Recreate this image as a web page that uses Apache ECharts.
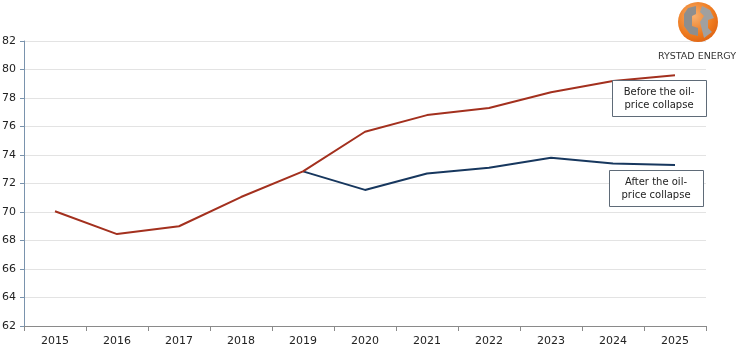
<!DOCTYPE html>
<html><head><meta charset="utf-8">
<script src="https://cdn.jsdelivr.net/npm/echarts@6/dist/echarts.min.js"></script>
<style>html,body{margin:0;padding:0;background:#fff}#c{width:738px;height:351px}</style>
</head><body><div id="c"></div>
<script>
const years = ['2015','2016','2017','2018','2019','2020','2021','2022','2023','2024','2025'];
const beforeCollapse = [70.05, 68.45, 69.0, 71.05, 72.85, 75.63, 76.8, 77.3, 78.4, 79.2, 79.6];
const afterCollapse = [null, null, null, null, 72.85, 71.55, 72.7, 73.1, 73.8, 73.4, 73.3];
const yTicks = {min: 62, max: 82, interval: 2};
const font = 'DejaVu Sans, Verdana, sans-serif';

const chart = echarts.init(document.getElementById('c'));
chart.setOption({
  animation: false,
  grid: {left: 24, right: 32, top: 41, bottom: 25, containLabel: false, outerBoundsMode: 'none'},
  xAxis: {
    type: 'category', data: years, boundaryGap: true,
    axisLine: {lineStyle: {color: '#8a8a8a', width: 1}},
    axisTick: {show: true, length: 5, lineStyle: {color: '#8a8a8a'}},
    axisLabel: {color: '#222', fontFamily: font, fontSize: 11, margin: 10},
    splitLine: {show: false}
  },
  yAxis: {
    type: 'value', min: yTicks.min, max: yTicks.max, interval: yTicks.interval,
    axisLine: {show: true, lineStyle: {color: '#7a93ad', width: 1}},
    axisTick: {show: true, length: 4, lineStyle: {color: '#7a93ad'}},
    axisLabel: {color: '#222', fontFamily: font, fontSize: 11, margin: 8},
    splitLine: {show: true, lineStyle: {color: '#e3e3e3', width: 1}}
  },
  series: [
    {name: 'Before the oil-price collapse', type: 'line', data: beforeCollapse, symbol: 'none',
     lineStyle: {color: '#a3301e', width: 2}, z: 3},
    {name: 'After the oil-price collapse', type: 'line', data: afterCollapse, symbol: 'none',
     lineStyle: {color: '#17375e', width: 2}, z: 2}
  ],
  graphic: [
    {type: 'rect', z: 100, shape: {x: 612.5, y: 80.5, width: 94, height: 36},
     style: {fill: '#fff', stroke: '#5f6b78', lineWidth: 1}},
    {type: 'text', z: 101, x: 659, y: 98.5,
     style: {text: 'Before the oil-\nprice collapse', fill: '#222', font: '10px ' + font, align: 'center', verticalAlign: 'middle', lineHeight: 13}},
    {type: 'rect', z: 100, shape: {x: 609.5, y: 170.5, width: 94, height: 36},
     style: {fill: '#fff', stroke: '#5f6b78', lineWidth: 1}},
    {type: 'text', z: 101, x: 656, y: 188.5,
     style: {text: 'After the oil-\nprice collapse', fill: '#222', font: '10px ' + font, align: 'center', verticalAlign: 'middle', lineHeight: 13}},
    // logo
    {type: 'circle', z: 100, shape: {cx: 698, cy: 22, r: 20},
     style: {fill: new echarts.graphic.RadialGradient(0.4, 0.35, 0.8, [{offset: 0, color: '#f7b070'}, {offset: 0.6, color: '#ee7a1e'}, {offset: 1, color: '#d85a10'}])}},
    {type: 'polygon', z: 101, shape: {points: [[688,8],[696,6],[696,14],[692,16],[692,26],[698,28],[698,36],[690,34],[684,26],[684,14]]},
     style: {fill: '#8e8e8e'}},
    {type: 'polygon', z: 101, shape: {points: [[702,6],[710,10],[714,18],[708,20],[708,28],[712,32],[704,38],[702,30],[700,22],[704,16],[700,12]]},
     style: {fill: '#a0a0a0'}},
    {type: 'text', z: 101, x: 697, y: 57,
     style: {text: 'RYSTAD ENERGY', fill: '#333', font: '9.5px ' + font, align: 'center', verticalAlign: 'middle'}}
  ]
});
</script></body></html>
